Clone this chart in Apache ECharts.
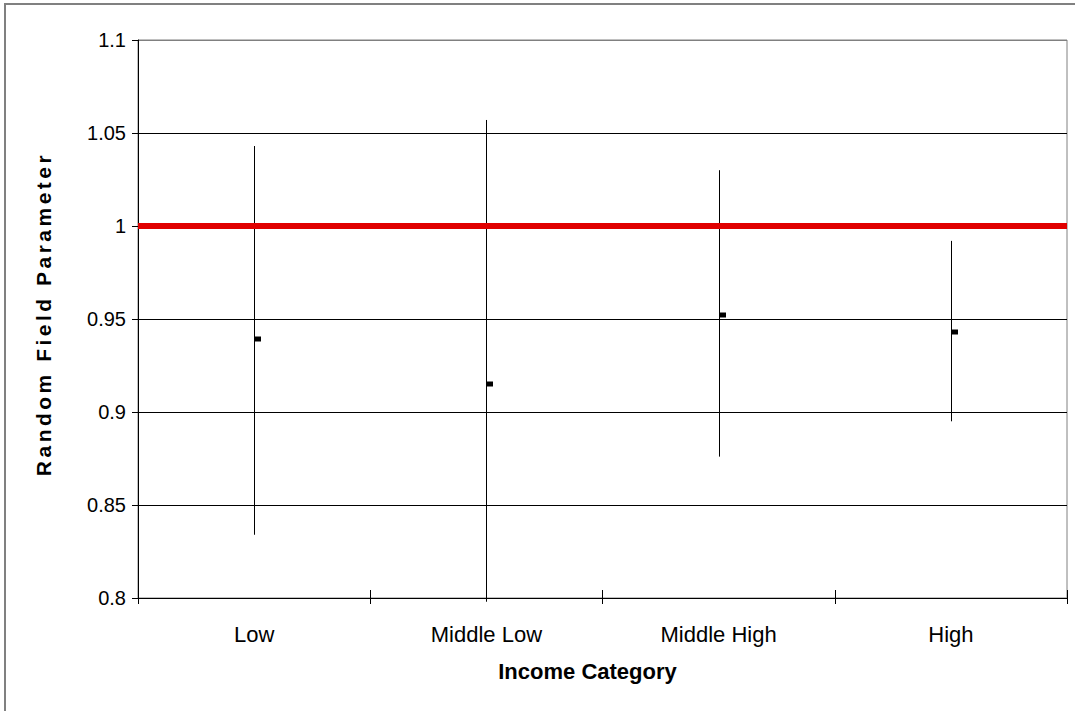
<!DOCTYPE html>
<html>
<head>
<meta charset="utf-8">
<title>Random Field Parameter by Income Category</title>
<script src="https://cdn.jsdelivr.net/npm/echarts@6/dist/echarts.min.js"></script>
<style>
  html, body { margin: 0; padding: 0; background: #fff; }
  #chart { width: 1075px; height: 711px; }
</style>
</head>
<body>
<div id="chart"></div>
<script>
// Income categories along the x axis
const categories = ['Low', 'Middle Low', 'Middle High', 'High'];
// Point estimate of the random field parameter for each category
const estimates = [0.939, 0.915, 0.952, 0.943];
// Lower and upper ends of each interval
const lowerBounds = [0.834, 0.798, 0.876, 0.895];
const upperBounds = [1.043, 1.057, 1.030, 0.992];
// Reference level drawn as the red line
const referenceLevel = [1];
// Value-axis range and step
const yMin = 0.8, yMax = 1.1, yStep = 0.05;

const FONT = 'Liberation Sans, Arial, sans-serif';
const yTitle = 'Random Field Parameter';

const intervalData = categories.map((c, i) => [i, lowerBounds[i], upperBounds[i], estimates[i]]);

function renderInterval(params, api) {
  const i = api.value(0);
  const top = api.coord([i, api.value(2)]);
  const bot = api.coord([i, api.value(1)]);
  const mid = api.coord([i, api.value(3)]);
  const x = Math.round(top[0]) + 0.5;
  return {
    type: 'group',
    children: [
      { type: 'line', shape: { x1: x, y1: top[1], x2: x, y2: bot[1] },
        style: { stroke: '#000', lineWidth: 1 } },
      { type: 'rect', shape: { x: x - 0.5, y: Math.round(mid[1]) - 2.5, width: 7, height: 5 },
        style: { fill: '#000' } }
    ]
  };
}

const chart = echarts.init(document.getElementById('chart'), null, { renderer: 'svg' });

chart.setOption({
  animation: false,
  backgroundColor: '#fff',
  graphic: [{
    type: 'rect', silent: true, z: -1,
    shape: { x: 5, y: 4, width: 1080, height: 720 },
    style: { fill: 'none', stroke: '#808080', lineWidth: 2 }
  }],
  grid: {
    left: 138, right: 8, top: 40, bottom: 113,
    show: true, borderColor: '#808080', borderWidth: 1, backgroundColor: 'transparent'
  },
  xAxis: [{
    type: 'category',
    data: categories,
    boundaryGap: true,
    axisLine: { lineStyle: { color: '#000', width: 1 } },
    axisTick: { show: true, length: 6, lineStyle: { color: '#000' } },
    axisLabel: { color: '#000', fontFamily: FONT, fontSize: 22, margin: 25 },
    splitLine: { show: false },
    name: 'Income Category',
    nameLocation: 'middle',
    nameGap: 62,
    nameTextStyle: {
      color: '#000', fontFamily: FONT, fontSize: 22, fontWeight: 'bold',
      padding: [0, 30, 0, 0]
    }
  }, {
    // inner half of the crossing tick marks on the category axis
    type: 'category',
    data: categories,
    position: 'bottom',
    boundaryGap: true,
    axisLine: { show: false },
    axisTick: { show: true, inside: true, length: 8, lineStyle: { color: '#000' } },
    axisLabel: { show: false },
    splitLine: { show: false }
  }],
  yAxis: {
    type: 'value',
    min: yMin, max: yMax, interval: yStep,
    axisLine: { show: true, lineStyle: { color: '#000', width: 1 } },
    axisTick: { show: true, length: 6, lineStyle: { color: '#000' } },
    axisLabel: {
      color: '#000', fontFamily: FONT, fontSize: 20, margin: 12,
      formatter: v => String(+v.toFixed(2))
    },
    splitLine: {
      show: true,
      lineStyle: { color: ['#000', '#000', '#000', '#000', '#000', '#000', '#808080'], width: 1 }
    },
    name: yTitle,
    nameLocation: 'middle',
    nameGap: 84,
    nameRotate: 90,
    nameTextStyle: {
      color: '#000', fontFamily: FONT, fontSize: 21, fontWeight: 'bold',
      padding: [0, 0, 0, 10]
    }
  },
  series: [{
    type: 'line',
    data: [],
    z: 2,
    markLine: {
      silent: true,
      symbol: 'none',
      label: { show: false },
      lineStyle: { color: '#e00000', width: 6, type: 'solid' },
      data: referenceLevel.map(v => ({ yAxis: v }))
    }
  }, {
    type: 'custom',
    z: 3,
    renderItem: renderInterval,
    encode: { x: 0, y: [1, 2, 3] },
    data: intervalData
  }]
});

// spread out the letters of the vertical axis title
function spaceTitle() {
  document.querySelectorAll('#chart svg text').forEach(t => {
    if (t.textContent === yTitle) t.style.letterSpacing = '3.5px';
  });
}
chart.on('finished', spaceTitle);
spaceTitle();
setTimeout(spaceTitle, 0);
setTimeout(spaceTitle, 100);
</script>
</body>
</html>
